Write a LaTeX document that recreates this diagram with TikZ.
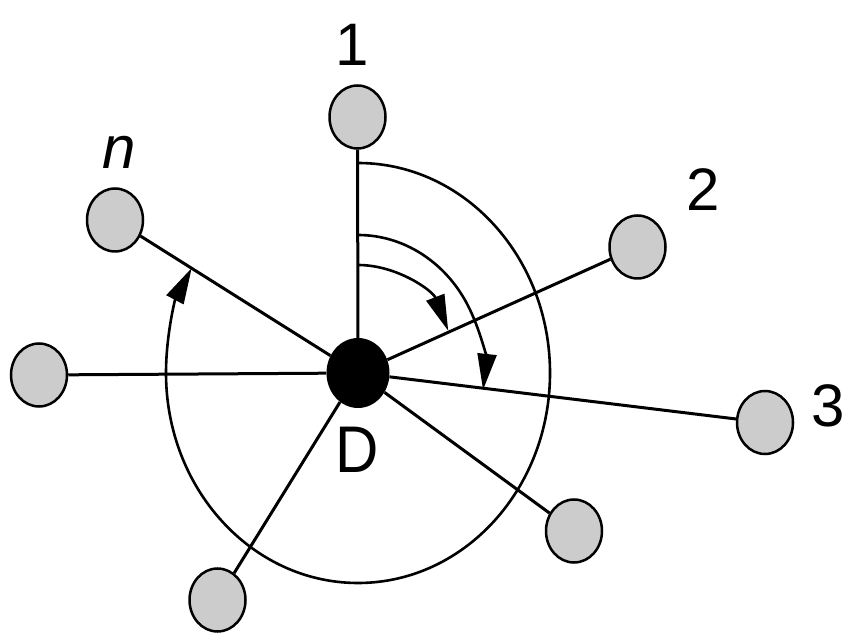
\documentclass[tikz,border=0pt]{standalone}
\usepackage{fontspec}
\setmainfont{Liberation Sans}
\usetikzlibrary{shapes.geometric,arrows.meta}
\newcommand{\labsize}[0]{\fontsize{60}{62}\selectfont}
\newcommand{\turn}[4]{\draw[turnarc] (D.center) ++(#1:#2 and #3) arc[start angle=#1,end angle=#4,x radius=#2,y radius=#3]}
\tikzset{
  peer/.style={ellipse, draw, line width=2.5pt, fill=gray!40,
    minimum width=56pt, minimum height=63pt, inner sep=0pt},
  hub/.style={ellipse, fill=black, minimum width=63pt, minimum height=70pt, inner sep=0pt},
  tag/.style={inner sep=0pt, font=\labsize},
  spoke/.style={line width=3pt},
  turnarc/.style={line width=2.6pt, -{Triangle[length=36pt,width=19pt]}}
}
\begin{document}
\begin{tikzpicture}[x=1pt,y=1pt]
\useasboundingbox (0,0) rectangle (848,632);
%The neighbours
	\node[peer] (n1) at (357.5,515) {};
	\node[peer] (nn) at (115,412) {};
	\node[peer] (n2) at (637.5,385) {};
	\node[peer] (nl) at (39,257) {};
	\node[peer] (n3) at (765,209.5) {};
	\node[peer] (nr) at (574,101) {};
	\node[peer] (nb) at (217.5,32) {};
%The centre
	\node[hub] (D) at (358,259) {};
%Spokes
	\foreach \p in {n1,nn,n2,nl,n3,nr,nb}
		\draw[spoke] (D) -- (\p);
%The turning arcs
	\turn{90}{98}{108}{23};
	\turn{90}{126}{138}{-7};
	\turn{90}{192}{210}{-210};
%Labels
	\node[tag] (l1) at (352,587) {1};
	\node[tag] (ln) at (119,480) {\itshape n};
	\node[tag] (l2) at (703,442) {2};
	\node[tag] (l3) at (828,226) {3};
	\node[tag,yscale=1.1] (lD) at (357,182) {D};
\end{tikzpicture}
\end{document}
